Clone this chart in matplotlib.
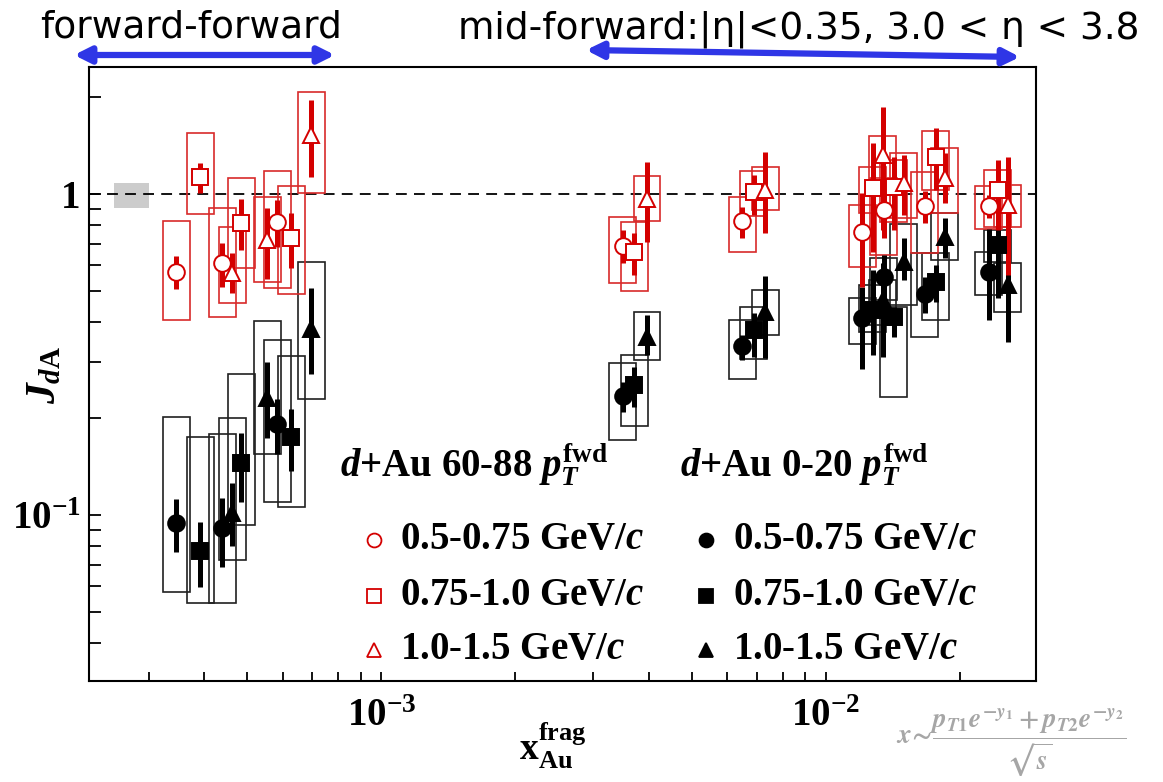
import matplotlib
matplotlib.use("Agg")
import matplotlib.pyplot as plt
import numpy as np
from matplotlib.patches import Rectangle
from matplotlib.ticker import FuncFormatter, LogLocator, NullFormatter

plt.rcParams["font.family"] = "Liberation Serif"
plt.rcParams["font.weight"] = "bold"
plt.rcParams["mathtext.fontset"] = "custom"
plt.rcParams["mathtext.rm"] = "Liberation Serif:bold"
plt.rcParams["mathtext.bf"] = "Liberation Serif:bold"
plt.rcParams["mathtext.it"] = "Liberation Serif:italic:bold"

# x of each pT bin: 3 forward-forward points, then 6 mid-forward points
x_lo_pt = [3.46e-4, 4.385e-4, 5.83e-4, 3.49e-3, 6.49e-3, 1.207e-2, 1.350e-2, 1.669e-2, 2.325e-2]
x_mid_pt = [3.92e-4, 4.845e-4, 6.28e-4, 3.71e-3, 6.89e-3, 1.275e-2, 1.421e-2, 1.767e-2, 2.435e-2]
x_hi_pt = [4.62e-4, 5.535e-4, 6.95e-4, 3.96e-3, 7.31e-3, 1.343e-2, 1.497e-2, 1.851e-2, 2.565e-2]

# d+Au 60-88 (peripheral)
p_lo_y = [0.573, 0.611, 0.820, 0.689, 0.824, 0.761, 0.892, 0.918, 0.918]
p_lo_stat = [[0.506, 0.514, 0.685, 0.608, 0.731, 0.513, 0.729, 0.810, 0.842],
             [0.641, 0.705, 0.958, 0.772, 0.913, 1.007, 1.067, 1.024, 0.993]]
p_lo_sys = [[0.405, 0.415, 0.508, 0.527, 0.661, 0.592, 0.646, 0.656, 0.778],
            [0.826, 0.906, 1.182, 0.846, 0.981, 0.924, 1.121, 1.174, 1.059]]

p_mid_y = [1.132, 0.814, 0.728, 0.658, 1.017, 1.044, 1.051, 1.304, 1.029]
p_mid_stat = [[1.009, 0.669, 0.587, 0.560, 0.860, 0.660, 0.772, 1.029, 0.772],
              [1.249, 0.965, 0.871, 0.758, 1.146, 1.442, 1.304, 1.605, 1.276]]
p_mid_sys = [[0.865, 0.587, 0.488, 0.499, 0.854, 0.871, 0.818, 1.029, 0.789],
             [1.546, 1.124, 1.059, 0.820, 1.179, 1.216, 1.276, 1.571, 1.188]]

p_hi_y = [0.566, 0.719, 1.527, 0.963, 1.029, 1.323, 1.082, 1.121, 0.924]
p_hi_stat = [[0.493, 0.542, 1.127, 0.710, 0.754, 0.772, 0.860, 0.937, 0.560],
             [0.655, 0.905, 1.963, 1.261, 1.355, 1.866, 1.323, 1.342, 1.304]]
p_hi_sys = [[0.457, 0.532, 1.009, 0.824, 0.892, 0.993, 0.842, 0.873, 0.789],
            [0.791, 0.977, 2.074, 1.140, 1.216, 1.516, 1.342, 1.391, 1.067]]

# d+Au 0-20 (central)
c_lo_y = [0.0942, 0.0909, 0.1917, 0.2348, 0.3362, 0.410, 0.5527, 0.488, 0.5715]
c_lo_stat = [[0.0769, 0.069, 0.1546, 0.2099, 0.3041, 0.2844, 0.451, 0.4259, 0.405],
             [0.1119, 0.1127, 0.2298, 0.2597, 0.3637, 0.514, 0.6457, 0.5515, 0.778]]
c_lo_sys = [[0.0577, 0.0533, 0.1096, 0.1713, 0.2647, 0.3410, 0.4675, 0.3585, 0.4846],
            [0.2015, 0.1788, 0.3509, 0.2970, 0.405, 0.4753, 0.632, 0.655, 0.660]]

c_mid_y = [0.0773, 0.145, 0.1754, 0.2541, 0.3770, 0.4351, 0.4128, 0.532, 0.694]
c_mid_stat = [[0.0595, 0.1096, 0.1372, 0.2175, 0.3113, 0.3151, 0.3593, 0.461, 0.4743],
              [0.0953, 0.1797, 0.2139, 0.2897, 0.4259, 0.580, 0.4456, 0.601, 0.812]]
c_mid_sys = [[0.0533, 0.0931, 0.1061, 0.1894, 0.3062, 0.3716, 0.2336, 0.405, 0.614],
             [0.1746, 0.2744, 0.313, 0.3151, 0.4456, 0.5207, 0.4456, 0.655, 0.772]]

c_hi_y = [0.1012, 0.2310, 0.3790, 0.3593, 0.4298, 0.4675, 0.6153, 0.7345, 0.5207]
c_hi_stat = [[0.0802, 0.1741, 0.2750, 0.3151, 0.3078, 0.3106, 0.5397, 0.632, 0.346],
             [0.1256, 0.2990, 0.5094, 0.4198, 0.5555, 0.6095, 0.729, 0.842, 0.592]]
c_hi_sys = [[0.0724, 0.1546, 0.2293, 0.3041, 0.3637, 0.3907, 0.451, 0.623, 0.4298],
            [0.2009, 0.403, 0.614, 0.4298, 0.5024, 0.5397, 0.8063, 0.873, 0.6095]]

# global normalisation uncertainty
norm_x = [2.5e-4, 3.0e-4]
norm_y = [0.905, 1.082]

pt_labels = [r"0.5-0.75 GeV/$c$", r"0.75-1.0 GeV/$c$", r"1.0-1.5 GeV/$c$"]

RED = "#d40000"
RED_BOX = "#d82a2a"
BLACK = "#000000"
BLACK_BOX = "#202020"
BLUE = "#2f36e6"
BOX_F = 10 ** 0.0303


def draw_series(ax, x, y, stat, sys, marker, color, box_color, filled):
    x = np.asarray(x)
    for xi, lo, hi in zip(x, sys[0], sys[1]):
        ax.add_patch(Rectangle((xi / BOX_F, lo), xi * BOX_F - xi / BOX_F, hi - lo,
                               fill=False, edgecolor=box_color, lw=1.2, zorder=2))
    ax.vlines(x, stat[0], stat[1], colors=color, lw=3.6, zorder=3)
    ax.plot(x, y, ls="none", marker=marker, ms=12, mew=1.4, mec=color,
            mfc=color if filled else "white", zorder=4)


fig = plt.figure(figsize=(11.63, 7.82), dpi=100)
ax = fig.add_axes([0.0765, 0.1292, 0.8143, 0.7852])

ax.set_xscale("log")
ax.set_yscale("log")
ax.set_xlim(2.2e-4, 2.97e-2)
ax.set_ylim(0.0304, 2.49)

ax.add_patch(Rectangle((norm_x[0], norm_y[0]), norm_x[1] - norm_x[0], norm_y[1] - norm_y[0],
                       facecolor="#cccccc", edgecolor="none", zorder=1))
ax.axhline(1.0, color="black", lw=1.3, ls=(0, (6, 4)), zorder=1.5)

draw_series(ax, x_lo_pt, c_lo_y, c_lo_stat, c_lo_sys, "o", BLACK, BLACK_BOX, True)
draw_series(ax, x_mid_pt, c_mid_y, c_mid_stat, c_mid_sys, "s", BLACK, BLACK_BOX, True)
draw_series(ax, x_hi_pt, c_hi_y, c_hi_stat, c_hi_sys, "^", BLACK, BLACK_BOX, True)
draw_series(ax, x_lo_pt, p_lo_y, p_lo_stat, p_lo_sys, "o", RED, RED_BOX, False)
draw_series(ax, x_mid_pt, p_mid_y, p_mid_stat, p_mid_sys, "s", RED, RED_BOX, False)
draw_series(ax, x_hi_pt, p_hi_y, p_hi_stat, p_hi_sys, "^", RED, RED_BOX, False)

# axes style
for sp in ax.spines.values():
    sp.set_linewidth(1.5)
ax.xaxis.set_major_locator(LogLocator(base=10))
ax.xaxis.set_minor_locator(LogLocator(base=10, subs=np.arange(2, 10)))
ax.yaxis.set_major_locator(LogLocator(base=10))
ax.yaxis.set_minor_locator(LogLocator(base=10, subs=np.arange(2, 10)))
ax.xaxis.set_minor_formatter(NullFormatter())
ax.yaxis.set_minor_formatter(NullFormatter())


def log_label(v, pos):
    if abs(v - 1) < 1e-9:
        return "1"
    return r"$10^{%d}$" % int(round(np.log10(v)))


ax.xaxis.set_major_formatter(FuncFormatter(log_label))
ax.yaxis.set_major_formatter(FuncFormatter(log_label))
ax.tick_params(axis="y", which="both", direction="in", length=8.5, width=1.3,
               labelsize=28, pad=6)
ax.tick_params(axis="x", which="both", direction="in", length=6.5, width=1.3,
               labelsize=28, pad=12)

ax.text(-0.0465, 0.498, r"$J_{d\mathrm{A}}$", transform=ax.transAxes, fontsize=30,
        rotation=90, ha="center", va="center")
ax.text(0.49, -0.105, r"$\mathbf{x}_{\mathbf{Au}}^{\mathbf{frag}}$", transform=ax.transAxes,
        fontsize=27, ha="center", va="center")

# legend
ax.text(0.265, 0.352, r"$d$+Au 60-88 $p_{T}^{\mathrm{fwd}}$", transform=ax.transAxes,
        fontsize=28, va="center")
ax.text(0.624, 0.352, r"$d$+Au 0-20 $p_{T}^{\mathrm{fwd}}$", transform=ax.transAxes,
        fontsize=28, va="center")
leg_rows = [0.2296, 0.1384, 0.0505]
for row, mk, lab in zip(leg_rows, ["o", "s", "^"], pt_labels):
    ax.plot([0.301], [row], transform=ax.transAxes, marker=mk, ms=10, mew=1.3,
            mec=RED, mfc="white", ls="none")
    ax.plot([0.6515], [row], transform=ax.transAxes, marker=mk, ms=10, mew=1.3,
            mec=BLACK, mfc=BLACK, ls="none")
    ax.text(0.3284, row, lab, transform=ax.transAxes, fontsize=28, va="center")
    ax.text(0.680, row, lab, transform=ax.transAxes, fontsize=28, va="center")

# header annotations
fig.text(40 / 1163, 1 - 38 / 782, "forward-forward", family="DejaVu Sans",
         weight="normal", fontsize=27, va="baseline")
fig.text(458 / 1163, 1 - 38 / 782, "mid-forward:|\u03b7|<0.35, 3.0 < \u03b7 < 3.8",
         family="DejaVu Sans", weight="normal", fontsize=27, va="baseline")
arrow = dict(arrowstyle="<|-|>", color=BLUE, lw=4.5, mutation_scale=24,
             shrinkA=0, shrinkB=0)
ax.annotate("", xy=(335 / 1163, 1 - 55 / 782), xytext=(74 / 1163, 1 - 55 / 782),
            xycoords="figure fraction", textcoords="figure fraction", arrowprops=arrow)
ax.annotate("", xy=(1020 / 1163, 1 - 57 / 782), xytext=(586 / 1163, 1 - 50 / 782),
            xycoords="figure fraction", textcoords="figure fraction", arrowprops=arrow)

fig.text(1011 / 1163, 1 - 743 / 782,
         r"$x\!\sim\!\dfrac{p_{T1}e^{-y_1}+p_{T2}e^{-y_2}}{\sqrt{s}}$",
         fontsize=19.5, color="#a6a6a6", ha="center", va="center", math_fontfamily="stix")

fig.savefig("out.png", dpi=100)
